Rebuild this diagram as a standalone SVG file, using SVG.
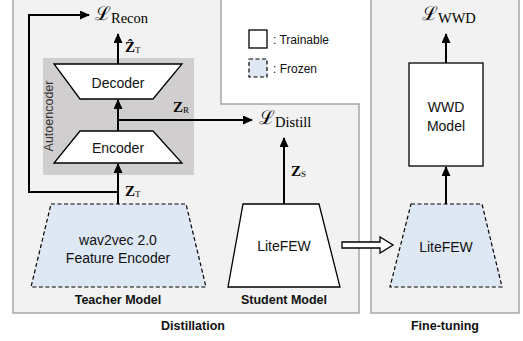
<svg xmlns="http://www.w3.org/2000/svg" width="523" height="341" viewBox="0 0 523 341">
<style>
.panel{fill:#f2f2f2;stroke:#a6a6a6;stroke-width:1.5}
.train{fill:#ffffff;stroke:#000;stroke-width:1.3}
.frozen{fill:#dee8f5;stroke:#000;stroke-width:1.2;stroke-dasharray:4,2.5}
.lbl{font-family:"Liberation Sans",Arial,sans-serif;font-size:14px;fill:#111;text-anchor:middle}
.bold{font-family:"Liberation Sans",Arial,sans-serif;font-size:12.5px;font-weight:bold;fill:#111;text-anchor:middle}
.leg{font-family:"Liberation Sans",Arial,sans-serif;font-size:12px;fill:#111}
.cal{font-family:"DejaVu Serif",serif;font-size:19px;fill:#000}
.sub{font-family:"Liberation Serif","Times New Roman",serif;fill:#000}
.zb{font-family:"Liberation Serif","Times New Roman",serif;font-weight:bold;font-size:15px;fill:#000}
.conn{fill:none;stroke:#000;stroke-width:2}
</style>
<defs>
<marker id="ah" markerUnits="userSpaceOnUse" markerWidth="10" markerHeight="10" refX="9" refY="4.5" orient="auto">
<path d="M0,0 L10,4.5 L0,9 z" fill="#000"/>
</marker>
</defs>
<rect width="523" height="341" fill="#fff"/>
<g id="distillation-panel">
<path class="panel" d="M13,-2 H221 V104 H359 V313 H13 Z"/>
<text class="bold" x="193" y="330">Distillation</text>
</g>
<g id="finetuning-panel">
<rect class="panel" x="371" y="-2" width="148" height="315"/>
<text class="bold" x="445" y="330">Fine-tuning</text>
</g>
<g id="legend">
<rect class="train" x="249" y="30" width="18" height="18"/>
<text class="leg" x="273" y="44">: Trainable</text>
<rect class="frozen" x="249" y="59" width="18" height="18"/>
<text class="leg" x="273" y="73">: Frozen</text>
</g>
<g id="autoencoder">
<rect x="43" y="58" width="151" height="117" fill="#d0cece"/>
<text class="leg" transform="translate(53,116) rotate(-90)" text-anchor="middle" style="font-size:12.5px;fill:#333">Autoencoder</text>
</g>
<g id="decoder">
<path class="train" d="M54,64 H182 L153,99 H80 Z"/>
<text class="lbl" x="118" y="88">Decoder</text>
</g>
<g id="encoder">
<path class="train" d="M80,131 H153 L182,163 H54 Z"/>
<text class="lbl" x="118" y="153">Encoder</text>
</g>
<g id="teacher">
<path class="frozen" d="M51,204 H186 L206,287 H31 Z"/>
<text class="lbl" x="118" y="245">wav2vec 2.0</text>
<text class="lbl" x="118" y="263">Feature Encoder</text>
<text class="bold" x="118" y="304">Teacher Model</text>
</g>
<g id="student">
<path class="train" d="M243,204 H319 L340,287 H228 Z"/>
<text class="lbl" x="284" y="251">LiteFEW</text>
<text class="bold" x="284" y="304">Student Model</text>
</g>
<g id="ft-litefew">
<path class="frozen" d="M411,204 H482 L502,287 H390 Z"/>
<text class="lbl" x="446" y="252">LiteFEW</text>
</g>
<g id="wwd">
<rect class="train" x="409" y="63" width="74" height="103"/>
<text class="lbl" x="446" y="112">WWD</text>
<text class="lbl" x="446" y="131">Model</text>
</g>
<g id="connectors">
<path class="conn" d="M118,204 V164" marker-end="url(#ah)"/>
<path class="conn" d="M118,192 H29 V15 H89" marker-end="url(#ah)"/>
<path class="conn" d="M118,131 V100" marker-end="url(#ah)"/>
<path class="conn" d="M118,120 H252" marker-end="url(#ah)"/>
<path class="conn" d="M118,64 V34" marker-end="url(#ah)"/>
<path class="conn" d="M284,204 V138" marker-end="url(#ah)"/>
<path class="conn" d="M446,204 V167" marker-end="url(#ah)"/>
<path class="conn" d="M446,63 V34" marker-end="url(#ah)"/>
<path d="M342,242 H380 V237 L393,245 L380,253 V248 H342 Z" fill="#fff" stroke="#000" stroke-width="1.3"/>
</g>
<g id="math-labels">
<text x="95" y="20"><tspan class="cal">ℒ</tspan><tspan class="sub" font-size="14.5" dy="3">Recon</tspan></text>
<text x="125" y="52"><tspan class="zb">Ẑ</tspan><tspan class="sub" font-size="9" dy="1">T</tspan></text>
<text x="173" y="112"><tspan class="zb">Z</tspan><tspan class="sub" font-size="9" dy="1">R</tspan></text>
<text x="125" y="196"><tspan class="zb">Z</tspan><tspan class="sub" font-size="9" dy="1">T</tspan></text>
<text x="259" y="124"><tspan class="cal">ℒ</tspan><tspan class="sub" font-size="14.5" dy="3">Distill</tspan></text>
<text x="291" y="176"><tspan class="zb">Z</tspan><tspan class="sub" font-size="9" dy="1">S</tspan></text>
<text x="422" y="20"><tspan class="cal">ℒ</tspan><tspan class="sub" font-size="14.5" dy="3">WWD</tspan></text>
</g>
</svg>
